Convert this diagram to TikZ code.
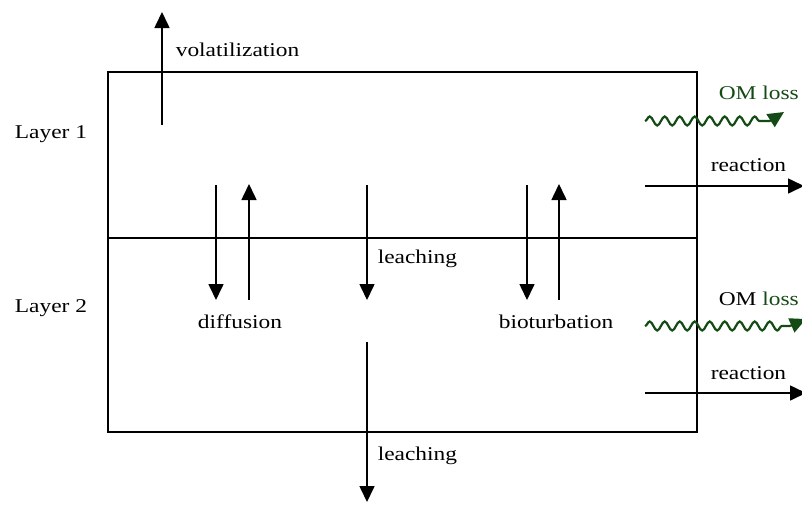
\documentclass[tikz,border=0pt]{standalone}
\usepackage{fontspec}
\setmainfont{Liberation Serif}[FakeStretch=1.2]
\usetikzlibrary{arrows.meta,decorations.pathmorphing}
\definecolor{omgreen}{RGB}{20,75,20}
\begin{document}
\begin{tikzpicture}[x=1pt,y=-1pt,
  line width=1.6pt,
  tri/.style={-{Triangle[length=16pt,width=15pt]}},
  lbl/.style={font=\fontsize{19.5}{22}\selectfont, inner sep=0pt},
  wav/.style={draw=omgreen, line width=2.2pt, decorate, decoration={snake,amplitude=4.5pt,segment length=15pt,post length=6pt}},
  wavtip/.style={-{Triangle[length=16pt,width=15pt]}, omgreen, line width=2.2pt}]
\useasboundingbox (0,0) rectangle (802,504);
\clip (0,0) rectangle (802,504);
% box
\draw[line width=1.4pt] (108,72) rectangle (697,432);
\coordinate (ml) at (108,238);
\coordinate (mr) at (697,238);
\draw[line width=1.4pt] (ml) -- (mr);
% labels of layers
\node[lbl] (l1) at (51,134) {Layer 1};
\node[lbl] (l2) at (51,308) {Layer 2};
% volatilization
\coordinate (v0) at (162,125);
\coordinate (v1) at (162,12);
\draw[tri] (v0) -- (v1);
\node[lbl, anchor=west] (vol) at (175,50) {volatilization};
% diffusion
\coordinate (d1a) at (216,185); \coordinate (d1b) at (216,300);
\coordinate (d2a) at (249,300); \coordinate (d2b) at (249,184);
\draw[tri] (d1a) -- (d1b);
\draw[tri] (d2a) -- (d2b);
\node[lbl] (diff) at (240,322) {diffusion};
% leaching
\coordinate (la) at (367,185); \coordinate (lb) at (367,300);
\draw[tri] (la) -- (lb);
\node[lbl, anchor=west] (leach1) at (377,259) {leaching};
\coordinate (lc) at (367,342); \coordinate (ld) at (367,502);
\draw[tri] (lc) -- (ld);
\node[lbl, anchor=west] (leach2) at (377,456) {leaching};
% bioturbation
\coordinate (b1a) at (527,185); \coordinate (b1b) at (527,300);
\coordinate (b2a) at (559,300); \coordinate (b2b) at (559,184);
\draw[tri] (b1a) -- (b1b);
\draw[tri] (b2a) -- (b2b);
\node[lbl] (bio) at (556,322) {bioturbation};
% layer 1 right side
\coordinate (om1a) at (645,121); \coordinate (om1b) at (770,121);
\coordinate (om1t) at (784,112);
\path[wav] (om1a) -- (om1b);
\draw[wavtip] (om1b) -- (om1t);
\node[lbl, anchor=west, text=omgreen] (oml1) at (718,93) {OM loss};
\coordinate (r1a) at (645,186); \coordinate (r1b) at (804,186);
\draw[tri] (r1a) -- (r1b);
\node[lbl, anchor=west] (re1) at (710,165) {reaction};
% layer 2 right side
\coordinate (om2a) at (645,326); \coordinate (om2b) at (790,326);
\coordinate (om2t) at (806,319);
\path[wav] (om2a) -- (om2b);
\draw[wavtip] (om2b) -- (om2t);
\node[lbl, anchor=west] (oml2) at (718,299) {OM \textcolor{omgreen}{loss}};
\coordinate (r2a) at (645,393); \coordinate (r2b) at (806,393);
\draw[tri] (r2a) -- (r2b);
\node[lbl, anchor=west] (re2) at (710,373) {reaction};
\end{tikzpicture}
\end{document}
